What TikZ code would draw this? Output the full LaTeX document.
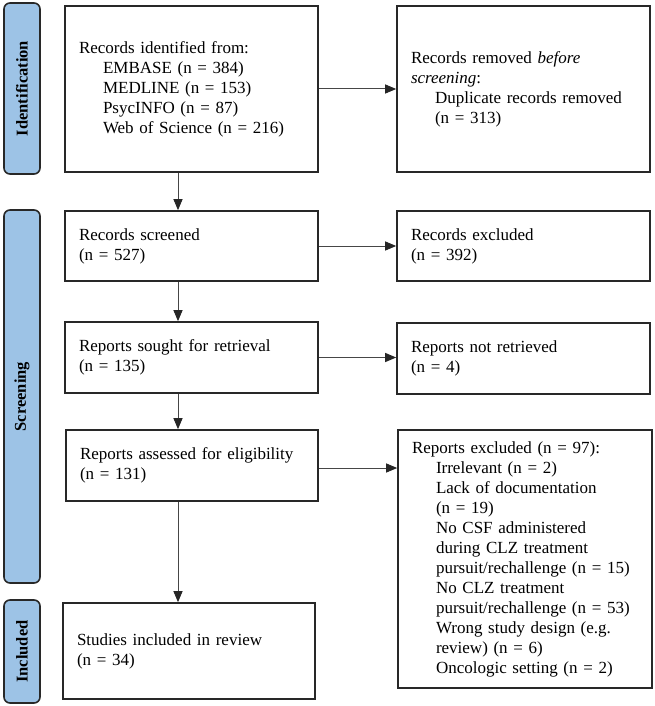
\documentclass[tikz,border=0pt]{standalone}
\usepackage{fontspec}
\setmainfont{Liberation Serif}
\usetikzlibrary{arrows.meta}
\definecolor{barblue}{RGB}{157,195,230}
\definecolor{edgecol}{RGB}{40,40,40}
\definecolor{arrcol}{RGB}{70,70,70}
\newcommand{\ind}{\hspace*{24pt}}
\begin{document}
\begin{tikzpicture}[x=1pt,y=-1pt,
  box/.style={draw=edgecol, line width=1.6pt, inner xsep=14pt, inner ysep=0pt,
    align=left, anchor=center, font=\fontsize{17}{20}\selectfont},
  phase/.style={draw=edgecol, fill=barblue, line width=1.6pt, rounded corners=6pt,
    rotate=90, anchor=center, inner sep=0pt, minimum height=36pt,
    font=\fontsize{16.5}{20}\selectfont\bfseries},
  arr/.style={draw=arrcol, line width=1pt,
    -{Triangle[length=11pt,width=9pt,color=black!85]}}]
\useasboundingbox (0,0) rectangle (655,706);

% phase bars
\node[phase, minimum width=171pt] (pid) at (22,88.5) {Identification};
\node[phase, minimum width=373pt] (pscr) at (22,396.5) {Screening};
\node[phase, minimum width=103pt] (pinc) at (22,651.5) {Included};

% boxes
\node[box, text width=225pt, minimum height=166pt] (id) at (191.5,89)
  {Records identified from:\\
   \ind EMBASE (n = 384)\\
   \ind MEDLINE (n = 153)\\
   \ind PsycINFO (n = 87)\\
   \ind Web of Science (n = 216)};
\node[box, text width=225pt, minimum height=166pt] (rem) at (523.5,89)
  {Records removed \textit{before}\\
   \textit{screening}:\\
   \ind Duplicate records removed\\
   \ind (n = 313)};
\node[box, text width=225pt, minimum height=70pt] (scr) at (191.5,246)
  {Records screened\\(n = 527)};
\node[box, text width=225pt, minimum height=70pt] (rex) at (523.5,246)
  {Records excluded\\(n = 392)};
\node[box, text width=225pt, minimum height=71pt] (sou) at (191.5,357.5)
  {Reports sought for retrieval\\(n = 135)};
\node[box, text width=225pt, minimum height=71pt] (nre) at (523.5,358.5)
  {Reports not retrieved\\(n = 4)};
\node[box, text width=224pt, minimum height=71pt] (ass) at (192,465.5)
  {Reports assessed for eligibility\\(n = 131)};
\node[box, text width=226pt, minimum height=258pt] (exc) at (525,559)
  {Reports excluded (n = 97):\\
   \ind Irrelevant (n = 2)\\
   \ind Lack of documentation\\
   \ind (n = 19)\\
   \ind No CSF administered\\
   \ind during CLZ treatment\\
   \ind pursuit/rechallenge (n = 15)\\
   \ind No CLZ treatment\\
   \ind pursuit/rechallenge (n = 53)\\
   \ind Wrong study design (e.g.\\
   \ind review) (n = 6)\\
   \ind Oncologic setting (n = 2)};
\node[box, text width=224pt, minimum height=96pt] (inc) at (189,651)
  {Studies included in review\\(n = 34)};

% connectors
\draw[arr] (id.east) -- (rem.west);
\draw[arr] (scr.east) -- (rex.west);
\draw[arr] (sou.east) -- (sou.east -| nre.west);
\draw[arr] ([yshift=-2.5pt]ass.east) -- ([yshift=-2.5pt]ass.east -| exc.west);
\draw[arr] ([xshift=-13.5pt]id.south) -- ([xshift=-13.5pt]id.south |- scr.north);
\draw[arr] ([xshift=-13.5pt]scr.south) -- ([xshift=-13.5pt]scr.south |- sou.north);
\draw[arr] ([xshift=-13.5pt]sou.south) -- ([xshift=-13.5pt]sou.south |- ass.north);
\draw[arr] ([xshift=-14pt]ass.south) -- ([xshift=-14pt]ass.south |- inc.north);
\end{tikzpicture}
\end{document}
